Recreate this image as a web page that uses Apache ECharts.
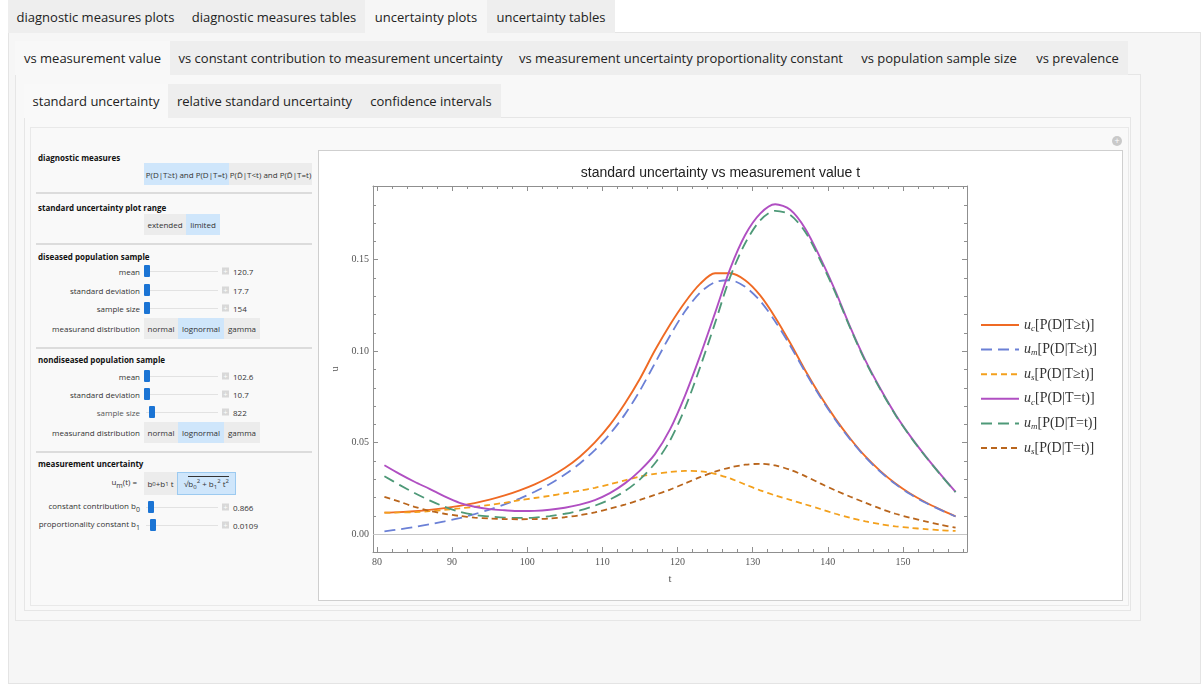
<!DOCTYPE html>
<html><head><meta charset="utf-8">
<script src="https://cdn.jsdelivr.net/npm/echarts@6/dist/echarts.min.js"></script>
<style>
body{margin:0;width:1202px;height:689px;background:#fff;font-family:"Open Sans","Noto Sans",sans-serif;color:#222;position:relative;overflow:hidden}
.a{position:absolute;box-sizing:border-box}
.tab{position:absolute;box-sizing:border-box;font-size:13px;text-align:center;background:#eeeeee;color:#222;white-space:nowrap;display:flex;align-items:center;justify-content:center}
.sel{background:#f8f8f8}
.hd{position:absolute;font-size:8px;font-weight:bold;color:#111;white-space:nowrap;transform:translateY(-50%)}
.lb{position:absolute;font-size:8px;color:#333;white-space:nowrap;text-align:right;transform:translateY(-50%)}
.btn{position:absolute;box-sizing:border-box;font-size:8px;color:#333;background:#ececec;white-space:nowrap;display:flex;align-items:center;justify-content:center}
.on{background:#cfe6fb}
.sep{position:absolute;left:36px;width:276px;height:2px;background:#dcdcdc}
.trk{position:absolute;left:146px;width:72px;height:1px;background:#e2e2e2}
.thm{position:absolute;width:6px;height:12px;background:#1b74d4;border-radius:1px;transform:translateY(-50%)}
.pl{position:absolute;left:222px;width:7px;height:7px;background:#d8d8d8;transform:translateY(-50%);font-size:7px;line-height:7px;text-align:center;color:#fff}
.val{position:absolute;left:233px;font-size:8px;color:#333;transform:translateY(-50%)}
</style></head><body>
<!-- outer panels -->
<div class="a" style="left:8px;top:32px;width:1193px;height:652px;background:#f6f6f6;border:1px solid #e4e4e4"></div>
<div class="tab" style="left:8px;top:0;width:175px;height:33px">diagnostic measures plots</div>
<div class="tab" style="left:183px;top:0;width:182px;height:33px">diagnostic measures tables</div>
<div class="tab sel" style="left:365px;top:0;width:122px;height:33px;background:#f6f6f6">uncertainty plots</div>
<div class="tab" style="left:487px;top:0;width:128px;height:33px">uncertainty tables</div>

<div class="a" style="left:15px;top:74px;width:1126px;height:547px;background:#f8f8f8;border:1px solid #e6e6e6"></div>
<div class="tab sel" style="left:15px;top:41px;width:155px;height:34px">vs measurement value</div>
<div class="tab" style="left:170px;top:41px;width:341px;height:34px">vs constant contribution to measurement uncertainty</div>
<div class="tab" style="left:511px;top:41px;width:340px;height:34px">vs measurement uncertainty proportionality constant</div>
<div class="tab" style="left:851px;top:41px;width:176px;height:34px">vs population sample size</div>
<div class="tab" style="left:1027px;top:41px;width:101px;height:34px">vs prevalence</div>

<div class="a" style="left:24px;top:117px;width:1107px;height:494px;background:#f9f9f9;border:1px solid #e6e6e6"></div>
<div class="tab sel" style="left:24px;top:84px;width:144px;height:34px;background:#f9f9f9">standard uncertainty</div>
<div class="tab" style="left:168px;top:84px;width:193px;height:34px">relative standard uncertainty</div>
<div class="tab" style="left:361px;top:84px;width:140px;height:34px">confidence intervals</div>

<div class="a" style="left:30px;top:127px;width:1099px;height:479px;border:1px solid #e9e9e9;background:#f9f9f9"></div>
<div class="a" style="left:1112px;top:136px;width:10px;height:10px;border-radius:50%;background:#c9c9c9;color:#fff;font-size:9px;line-height:10px;text-align:center">+</div>

<!-- control panel -->
<div class="hd" style="left:38px;top:157px">diagnostic measures</div>
<div class="btn on" style="left:144px;top:163px;width:85px;height:22px">P(D|T≥t) and P(D|T=t)</div>
<div class="btn" style="left:229px;top:163px;width:83px;height:22px">P(D̄|T&lt;t) and P(D̄|T=t)</div>
<div class="sep" style="top:192px"></div>
<div class="hd" style="left:38px;top:207px">standard uncertainty plot range</div>
<div class="btn" style="left:144px;top:214px;width:42px;height:21px">extended</div>
<div class="btn on" style="left:186px;top:214px;width:34px;height:21px">limited</div>
<div class="sep" style="top:243px"></div>

<div class="hd" style="left:38px;top:256px">diseased population sample</div>
<div class="lb" style="right:1062px;top:271px">mean</div>
<div class="trk" style="top:271px"></div><div class="thm" style="left:144px;top:271px"></div><div class="pl" style="top:271px">+</div><div class="val" style="top:271px">120.7</div>
<div class="lb" style="right:1062px;top:290px">standard deviation</div>
<div class="trk" style="top:290px"></div><div class="thm" style="left:144px;top:290px"></div><div class="pl" style="top:290px">+</div><div class="val" style="top:290px">17.7</div>
<div class="lb" style="right:1062px;top:308px">sample size</div>
<div class="trk" style="top:308px"></div><div class="thm" style="left:144px;top:308px"></div><div class="pl" style="top:308px">+</div><div class="val" style="top:308px">154</div>
<div class="lb" style="right:1062px;top:328px">measurand distribution</div>
<div class="btn" style="left:144px;top:318px;width:34px;height:21px">normal</div>
<div class="btn on" style="left:178px;top:318px;width:46px;height:21px">lognormal</div>
<div class="btn" style="left:224px;top:318px;width:36px;height:21px">gamma</div>
<div class="sep" style="top:347px"></div>

<div class="hd" style="left:38px;top:359px">nondiseased population sample</div>
<div class="lb" style="right:1062px;top:376px">mean</div>
<div class="trk" style="top:376px"></div><div class="thm" style="left:144px;top:376px"></div><div class="pl" style="top:376px">+</div><div class="val" style="top:376px">102.6</div>
<div class="lb" style="right:1062px;top:394px">standard deviation</div>
<div class="trk" style="top:394px"></div><div class="thm" style="left:144px;top:394px"></div><div class="pl" style="top:394px">+</div><div class="val" style="top:394px">10.7</div>
<div class="lb" style="right:1062px;top:412px;color:#555">sample size</div>
<div class="trk" style="top:412px"></div><div class="thm" style="left:149px;top:412px"></div><div class="pl" style="top:412px">+</div><div class="val" style="top:412px">822</div>
<div class="lb" style="right:1062px;top:432px">measurand distribution</div>
<div class="btn" style="left:144px;top:422px;width:34px;height:21px">normal</div>
<div class="btn on" style="left:178px;top:422px;width:46px;height:21px">lognormal</div>
<div class="btn" style="left:224px;top:422px;width:36px;height:21px">gamma</div>
<div class="sep" style="top:451px"></div>

<div class="hd" style="left:38px;top:463px">measurement uncertainty</div>
<div class="lb" style="right:1065px;top:483px">u<sub style="font-size:7px">m</sub>(t) =</div>
<div class="btn" style="left:144px;top:472px;width:33px;height:23px">b<sub style="font-size:6px">0</sub>+b<sub style="font-size:6px">1</sub>&nbsp;t</div>
<div class="btn on" style="left:177px;top:472px;width:59px;height:23px;border:1px solid #9ccaf0">√<span style="border-top:1px solid #333">b<sub style="font-size:6px">0</sub><sup style="font-size:6px">2</sup> + b<sub style="font-size:6px">1</sub><sup style="font-size:6px">2</sup> t<sup style="font-size:6px">2</sup></span></div>
<div class="lb" style="right:1062px;top:507px">constant contribution b<sub style="font-size:7px">0</sub></div>
<div class="trk" style="top:507px"></div><div class="thm" style="left:148px;top:507px"></div><div class="pl" style="top:507px">+</div><div class="val" style="top:507px">0.866</div>
<div class="lb" style="right:1062px;top:525px">proportionality constant b<sub style="font-size:7px">1</sub></div>
<div class="trk" style="top:525px"></div><div class="thm" style="left:150px;top:525px"></div><div class="pl" style="top:525px">+</div><div class="val" style="top:525px">0.0109</div>

<!-- chart box -->
<div class="a" style="left:318px;top:150px;width:805px;height:451px;background:#fff;border:1px solid #cfcfcf"></div>
<div id="chart" class="a" style="left:319px;top:151px;width:803px;height:449px"></div>

<script>
// measurement value t
const tValues = [81,83,85,87,89,91,93,95,97,99,101,103,105,107,109,111,113,115,117,119,121,123,125,127,129,131,133,135,137,139,141,143,145,147,149,151,153,155,157];
// u_c[P(D|T>=t)]
const ucGe = [0.0118,0.0121,0.0126,0.0133,0.0143,0.0155,0.0170,0.0189,0.0212,0.0240,0.0273,0.0313,0.0362,0.0424,0.0502,0.0598,0.0715,0.0850,0.1005,0.1145,0.1268,0.1368,0.1426,0.1426,0.1388,0.1305,0.1185,0.1045,0.0895,0.0757,0.0632,0.0522,0.0425,0.0345,0.0277,0.0221,0.0175,0.0135,0.0098];
// u_m[P(D|T>=t)]
const umGe = [0.0016,0.0027,0.0040,0.0054,0.0070,0.0088,0.0110,0.0135,0.0163,0.0195,0.0232,0.0275,0.0326,0.0387,0.0460,0.0548,0.0655,0.0785,0.0935,0.1085,0.1218,0.1320,0.1378,0.1388,0.1352,0.1275,0.1163,0.1030,0.0886,0.0750,0.0626,0.0517,0.0421,0.0341,0.0274,0.0218,0.0172,0.0133,0.0097];
// u_s[P(D|T>=t)]
const usGe = [0.0118,0.0119,0.0121,0.0126,0.0133,0.0141,0.0150,0.0160,0.0172,0.0186,0.0198,0.0210,0.0224,0.0238,0.0254,0.0273,0.0295,0.0315,0.0330,0.0340,0.0346,0.0344,0.0330,0.0305,0.0272,0.0240,0.0212,0.0188,0.0163,0.0138,0.0112,0.0090,0.0070,0.0055,0.0043,0.0035,0.0028,0.0022,0.0018];
// u_c[P(D|T=t)]
const ucEq = [0.0377,0.0330,0.0287,0.0248,0.0207,0.0172,0.0150,0.0137,0.0131,0.0127,0.0128,0.0134,0.0145,0.0162,0.0187,0.0225,0.0278,0.0348,0.0438,0.0573,0.0758,0.0975,0.1210,0.1450,0.1635,0.1752,0.1803,0.1773,0.1670,0.1510,0.1330,0.1130,0.0950,0.0795,0.0655,0.0535,0.0427,0.0327,0.0231];
// u_m[P(D|T=t)]
const umEq = [0.0317,0.0270,0.0225,0.0185,0.0150,0.0123,0.0106,0.0097,0.0091,0.0089,0.0091,0.0099,0.0112,0.0130,0.0156,0.0190,0.0236,0.0300,0.0388,0.0512,0.0690,0.0912,0.1155,0.1405,0.1590,0.1715,0.1767,0.1745,0.1652,0.1497,0.1320,0.1125,0.0945,0.0790,0.0652,0.0532,0.0425,0.0325,0.0230];
// u_s[P(D|T=t)]
const usEq = [0.0204,0.0178,0.0150,0.0128,0.0112,0.0100,0.0091,0.0086,0.0083,0.0082,0.0083,0.0086,0.0093,0.0104,0.0120,0.0140,0.0162,0.0188,0.0215,0.0244,0.0278,0.0312,0.0342,0.0365,0.0380,0.0385,0.0376,0.0352,0.0318,0.0278,0.0240,0.0205,0.0172,0.0140,0.0112,0.0090,0.0070,0.0052,0.0036];

const xMajor = [80,90,100,110,120,130,140,150];
const xMinor = [82,84,86,88,92,94,96,98,102,104,106,108,112,114,116,118,122,124,126,128,132,134,136,138,142,144,146,148,152,154,156,158];
const yMajor = [0,0.05,0.10,0.15];
const yMinor = [0.01,0.02,0.03,0.04,0.06,0.07,0.08,0.09,0.11,0.12,0.13,0.14,0.16,0.17,0.18,0.19];
const xRange = [79.48,158.52];
const yRange = [-0.0097,0.1903];

const seriesDefs = [
  {name:'ucGe', sub:'c', rel:'≥', data:ucGe, color:'#ef6a24', type:'solid', width:1.9},
  {name:'umGe', sub:'m', rel:'≥', data:umGe, color:'#6b80d6', type:[11,6], width:1.8},
  {name:'usGe', sub:'s', rel:'≥', data:usGe, color:'#f3a01c', type:[6,4], width:1.8},
  {name:'ucEq', sub:'c', rel:'=', data:ucEq, color:'#b04fc2', type:'solid', width:1.9},
  {name:'umEq', sub:'m', rel:'=', data:umEq, color:'#4e9978', type:[11,6], width:1.8},
  {name:'usEq', sub:'s', rel:'=', data:usEq, color:'#b9651c', type:[6,4], width:1.8}
];

const frameColor = '#8f8f8f';
const serif = '"Liberation Serif","DejaVu Serif",serif';
const lab = {fontFamily:serif, fontSize:10, color:'#555'};

function xAx(pos, vals, len, labels, line){
  return {type:'value', position:pos, min:xRange[0], max:xRange[1],
    axisLine:{show:line, onZero:false, lineStyle:{color:frameColor, width:1}},
    axisTick:{show:true, inside:true, length:len, customValues:vals, lineStyle:{color:frameColor}},
    axisLabel:labels ? Object.assign({show:true, customValues:vals, margin:5}, lab) : {show:false},
    splitLine:{show:false},
    name: (labels ? 't' : ''), nameLocation:'middle', nameGap:22, nameTextStyle:{fontFamily:serif, fontSize:11, color:'#555'}};
}
function yAx(pos, vals, len, labels, line){
  return {type:'value', position:pos, min:yRange[0], max:yRange[1],
    axisLine:{show:line, onZero:false, lineStyle:{color:frameColor, width:1}},
    axisTick:{show:true, inside:true, length:len, customValues:vals, lineStyle:{color:frameColor}},
    axisLabel:labels ? Object.assign({show:true, customValues:vals, margin:4, formatter:v=>v.toFixed(2)}, lab) : {show:false},
    splitLine:{show:false},
    name: (labels ? 'u' : ''), nameLocation:'middle', nameGap:28, nameRotate:90, nameTextStyle:{fontFamily:serif, fontSize:10, color:'#555'}};
}

const chart = echarts.init(document.getElementById('chart'), null, {renderer:'canvas'});
chart.setOption({
  animation:false,
  backgroundColor:'#fff',
  title:{text:'standard uncertainty vs measurement value t', left:'center', top:10,
    textStyle:{fontFamily:'"Liberation Sans",Arial,sans-serif', fontSize:14, fontWeight:'normal', color:'#222'}},
  grid:{left:54, top:35, width:594, height:366},
  legend:{orient:'vertical', left:656, top:162, itemWidth:38, itemHeight:14, itemGap:9.6,
    itemStyle:{opacity:0, borderWidth:0},
    data: seriesDefs.map(s=>s.name),
    formatter: n => { const s = seriesDefs.find(d=>d.name===n); return '{i|u}{s|' + s.sub + '}{n|[P(D|T' + s.rel + 't)]}'; },
    textStyle:{rich:{
      i:{fontFamily:serif, fontStyle:'italic', fontSize:14, color:'#333', lineHeight:16},
      s:{fontFamily:serif, fontStyle:'italic', fontSize:9, color:'#333', lineHeight:8, verticalAlign:'bottom'},
      n:{fontFamily:serif, fontSize:14, color:'#333', lineHeight:16}
    }}},
  xAxis:[xAx('bottom', xMajor, 5, true, true), xAx('bottom', xMinor, 3, false, false),
         xAx('top', xMajor, 5, false, true), xAx('top', xMinor, 3, false, false)],
  yAxis:[yAx('left', yMajor, 5, true, true), yAx('left', yMinor, 3, false, false),
         yAx('right', yMajor, 5, false, true), yAx('right', yMinor, 3, false, false)],
  series: seriesDefs.map((s,i)=>({
    name:s.name, type:'line', xAxisIndex:0, yAxisIndex:0, smooth:0.3, symbol:'none', showSymbol:false,
    data: tValues.map((t,k)=>[t, s.data[k]]),
    lineStyle:{color:s.color, width:s.width, type:s.type},
    itemStyle:{color:s.color},
    z: 3,
    markLine: i===0 ? {silent:true, symbol:'none', label:{show:false}, z:1,
      lineStyle:{color:'#c6c6c6', type:'solid', width:1}, data:[{yAxis:0}]} : undefined
  }))
});
</script>
</body></html>
